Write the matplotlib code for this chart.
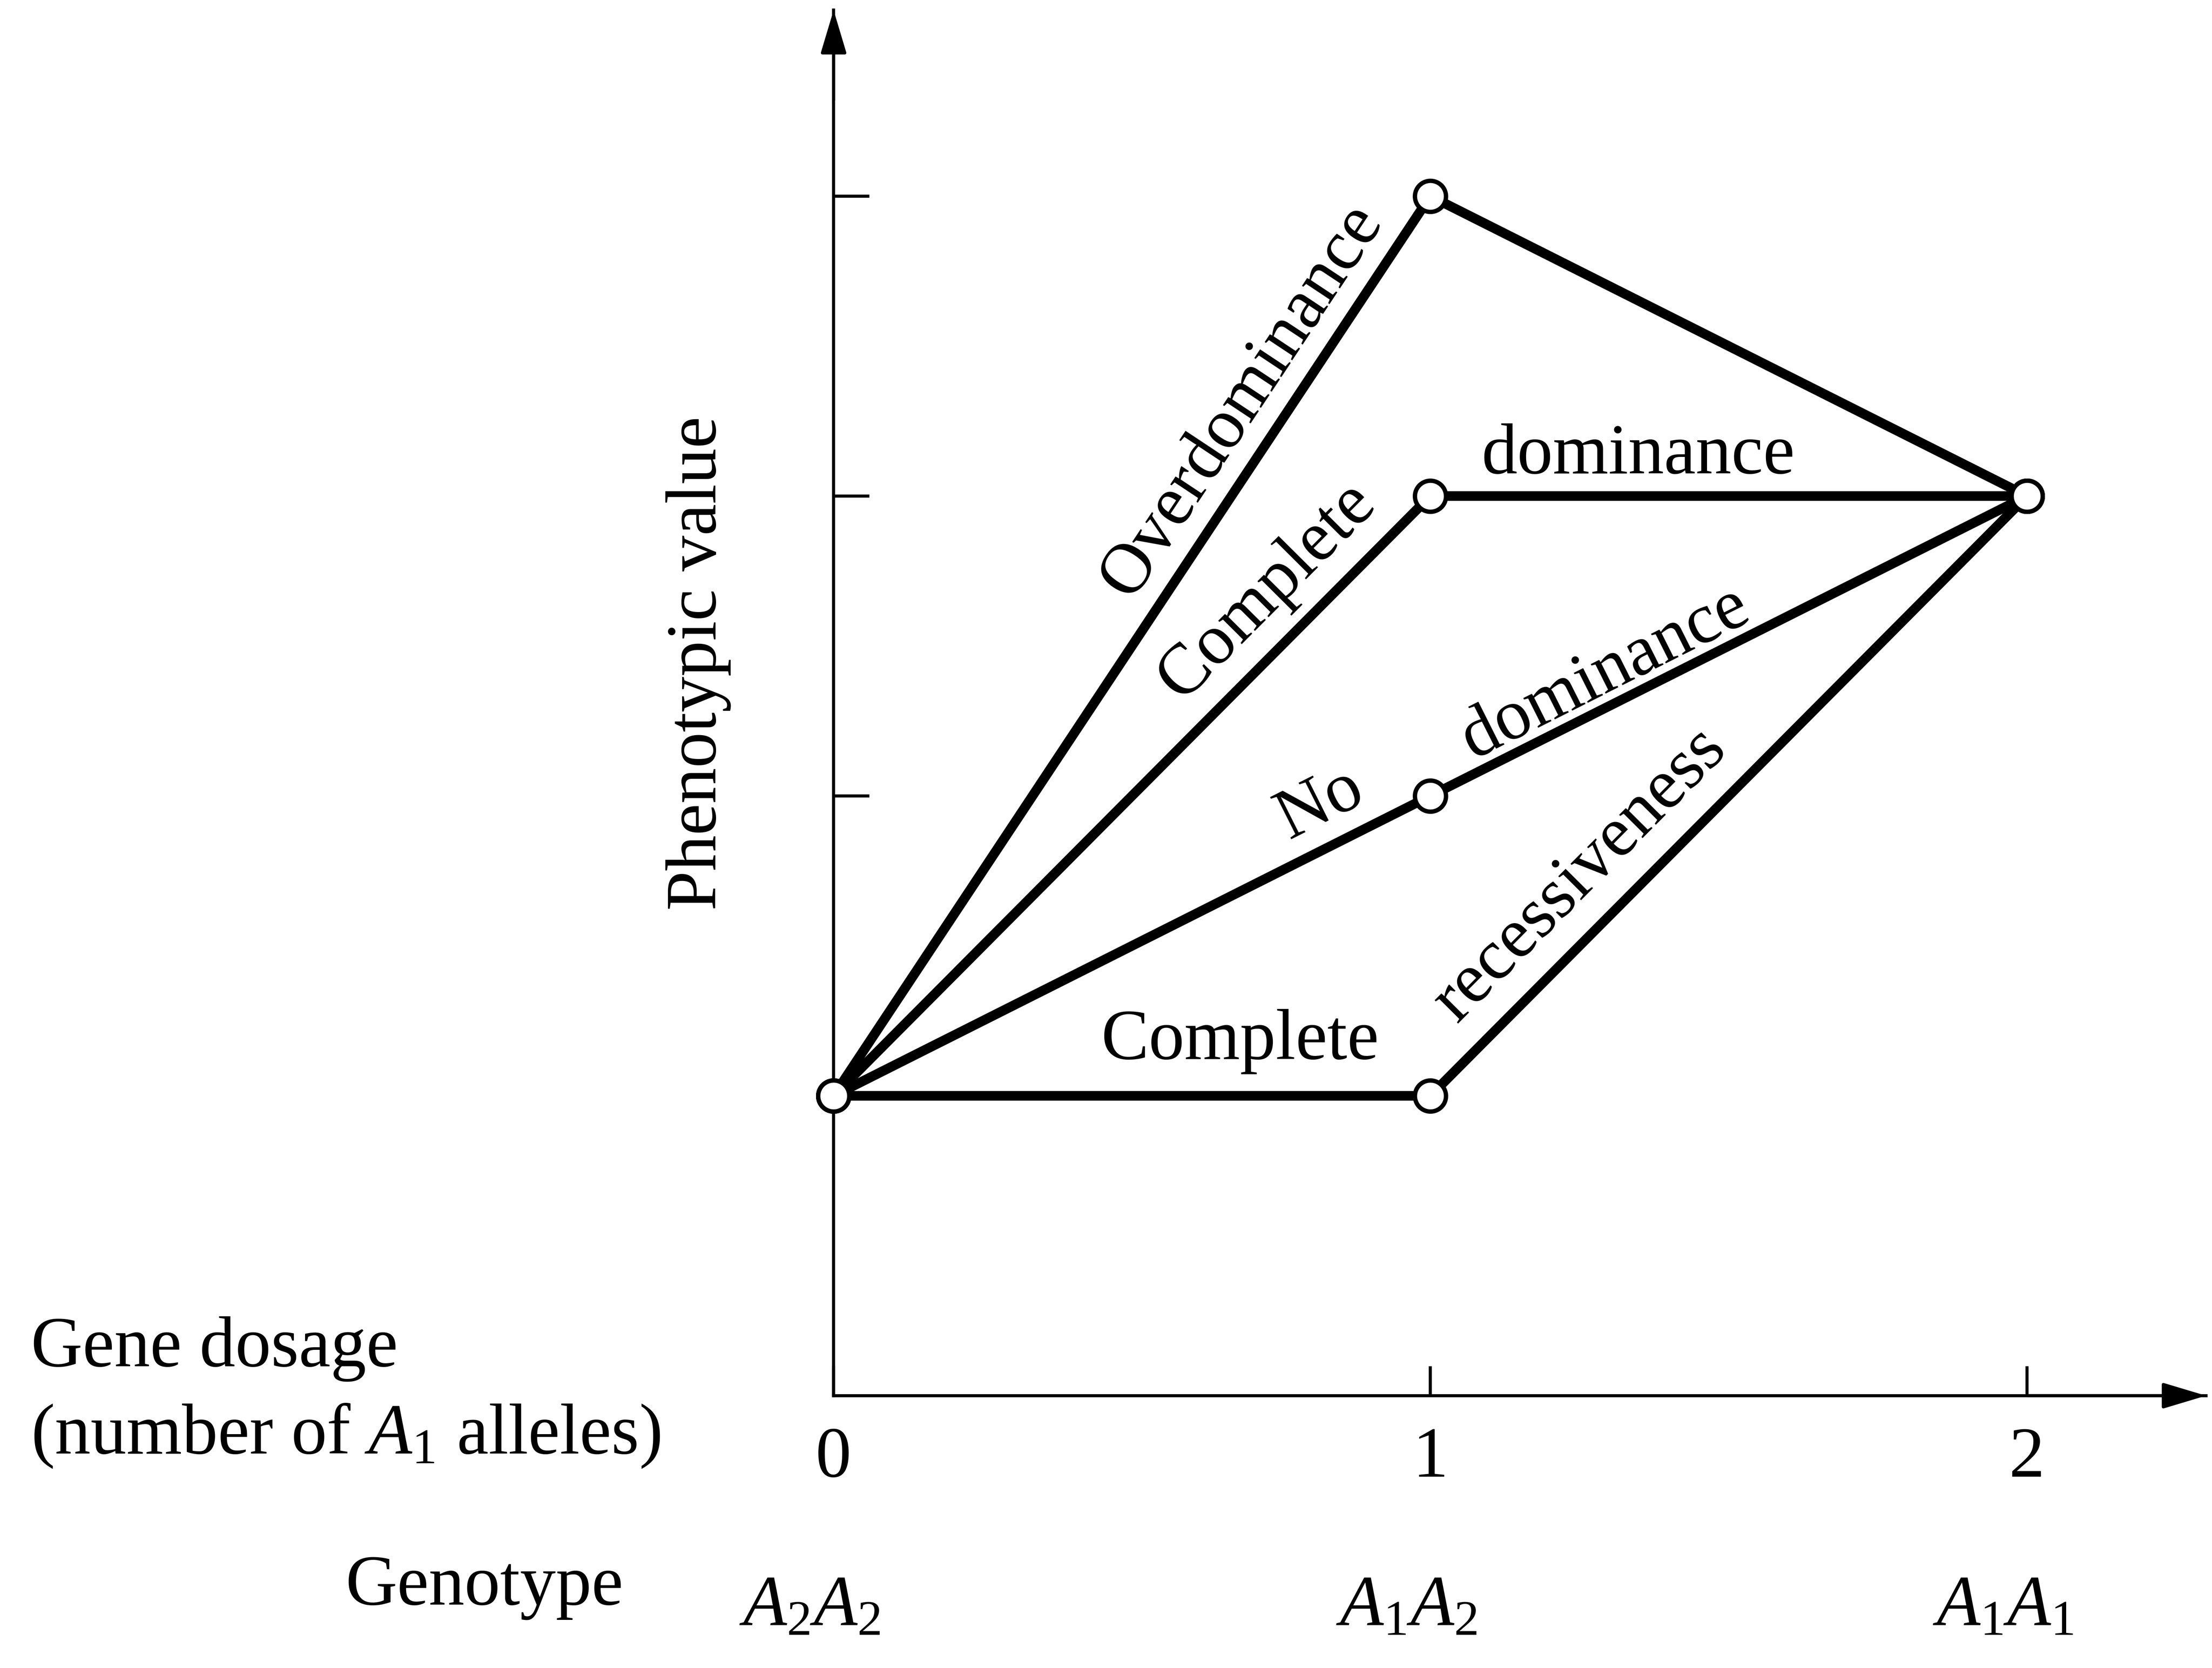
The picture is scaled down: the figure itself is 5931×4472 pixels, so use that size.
import numpy as np
import matplotlib.pyplot as plt

# gene dosage (number of A1 alleles) and genotype for each class
dosage = [0, 1, 2]
dosage_labels = ['0', '1', '2']
genotypes = [r'$A_2A_2$', r'$A_1A_2$', r'$A_1A_1$']

# phenotypic value of A2A2, A1A2, A1A1 under each mode of gene action
overdominance = [1, 4, 3]
complete_dominance = [1, 3, 3]
no_dominance = [1, 2, 3]
complete_recessiveness = [1, 1, 3]

value_ticks = [2, 3, 4]

plt.rcParams['font.family'] = ['Liberation Serif', 'DejaVu Serif']
plt.rcParams['mathtext.fontset'] = 'custom'
plt.rcParams['mathtext.rm'] = 'Liberation Serif'
plt.rcParams['mathtext.it'] = 'Liberation Serif:italic'

FS = 46
x_tip, y_tip = 2.30, 4.62

fig = plt.figure(figsize=(5931 / 300, 4472 / 300), dpi=300)
ax = fig.add_axes([0, 0, 1, 1])
ax.set_xlim(-1.397, 2.310)
ax.set_ylim(-0.908, 4.654)

# axes drawn through the origin, with arrow heads
ax.spines[['top', 'right']].set_visible(False)
ax.spines['left'].set_position(('data', 0))
ax.spines['bottom'].set_position(('data', 0))
ax.spines['left'].set_bounds(0, y_tip)
ax.spines['bottom'].set_bounds(0, x_tip)
ax.spines[['left', 'bottom']].set_linewidth(2)

head = dict(arrowstyle='-|>,head_length=0.4,head_width=0.12', color='k',
            lw=2, shrinkA=0, shrinkB=0, mutation_scale=60)
ax.annotate('', xy=(0, y_tip), xytext=(0, y_tip - 0.3), arrowprops=head)
ax.annotate('', xy=(x_tip, 0), xytext=(x_tip - 0.3, 0), arrowprops=head)

ax.set_xticks(dosage, dosage_labels)
ax.set_yticks(value_ticks, [])
ax.tick_params(axis='both', direction='in', width=2, labelsize=FS, color='k')
ax.tick_params(axis='x', length=19, pad=20)
ax.tick_params(axis='y', length=23)

series = [overdominance, complete_dominance, no_dominance, complete_recessiveness]
for vals in series:
    ax.plot(dosage, vals, color='k', lw=6.2, solid_capstyle='round', zorder=3)
for vals in series:
    ax.plot(dosage, vals, ls='none', marker='o', ms=20, mfc='white',
            mec='k', mew=2.8, zorder=4)


def seg_angle(y, i):
    p = ax.transData.transform([(dosage[i], y[i]), (dosage[i + 1], y[i + 1])])
    d = p[1] - p[0]
    return np.degrees(np.arctan2(d[1], d[0]))


curve_labels = [
    ('Overdominance', overdominance, 0, 0.684, 3.318),
    ('Complete', complete_dominance, 0, 0.726, 2.682),
    ('dominance', complete_dominance, 1, 1.348, 3.134),
    ('No', no_dominance, 0, 0.816, 1.972),
    ('dominance', no_dominance, 1, 1.293, 2.409),
    ('Complete', complete_recessiveness, 0, 0.681, 1.181),
    ('recessiveness', complete_recessiveness, 1, 1.251, 1.736),
]
for text, vals, seg, tx, ty in curve_labels:
    ax.text(tx, ty, text, fontsize=FS, rotation=seg_angle(vals, seg),
            rotation_mode='anchor', ha='center', va='center')

ax.text(-0.227, 2.442, 'Phenotypic value', fontsize=FS, rotation=90,
        ha='center', va='center')

ax.text(-1.345, 0.099, 'Gene dosage', fontsize=FS, va='baseline')
ax.text(-1.345, -0.193, r'(number of $A_1$ alleles)', fontsize=FS, va='baseline')
ax.text(-0.818, -0.696, 'Genotype', fontsize=FS, va='baseline')
for x, g in zip(dosage, genotypes):
    ax.text(x - 0.04, -0.765, g, fontsize=FS, ha='center', va='baseline')

fig.savefig('out.png', dpi=300)
